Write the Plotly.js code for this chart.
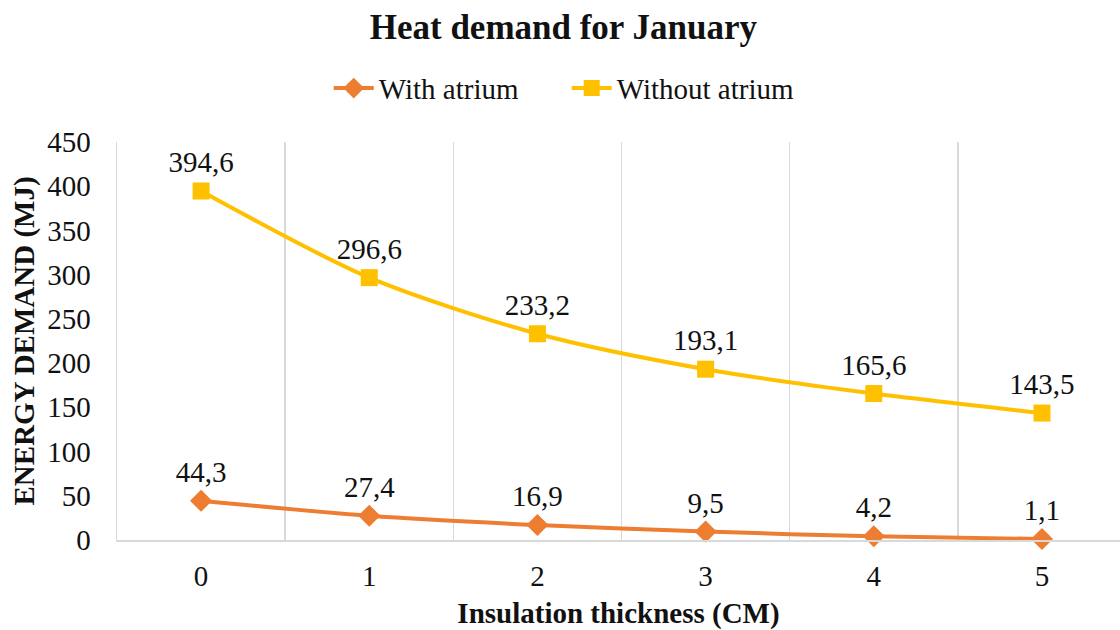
<!DOCTYPE html>
<html>
<head>
<meta charset="utf-8">
<script src="https://cdn.plot.ly/plotly-3.0.1.min.js"></script>
<style>html,body{margin:0;padding:0;background:#fff;}#chart{width:1120px;height:630px;}</style>
</head>
<body>
<div id="chart"></div>
<script>
var thickness = [0, 1, 2, 3, 4, 5];
var tickLabels = ["0", "1", "2", "3", "4", "5"];
var withAtrium = [44.3, 27.4, 16.9, 9.5, 4.2, 1.1];
var withoutAtrium = [394.6, 296.6, 233.2, 193.1, 165.6, 143.5];
var seriesNames = ["With atrium", "Without atrium"];
var yTicks = [0, 50, 100, 150, 200, 250, 300, 350, 400, 450];

var FONT = "Liberation Serif, Times New Roman, serif";

var traces = [
  {
    x: thickness, y: withAtrium, name: seriesNames[0],
    type: "scatter", mode: "lines+markers+text",
    line: {color: "#ED7D31", width: 4, shape: "spline", smoothing: 0.8},
    marker: {symbol: "diamond", size: 17, color: "#ED7D31"},
    texttemplate: "%{y:.1f}", textposition: "top center",
    textfont: {family: FONT, size: 29, color: "#111"},
    cliponaxis: false
  },
  {
    x: thickness, y: withoutAtrium, name: seriesNames[1],
    type: "scatter", mode: "lines+markers+text",
    line: {color: "#FFC000", width: 4, shape: "spline", smoothing: 0.8},
    marker: {symbol: "square", size: 17, color: "#FFC000"},
    texttemplate: "%{y:.1f}", textposition: "top center",
    textfont: {family: FONT, size: 29, color: "#111"},
    cliponaxis: false
  }
];

var layout = {
  width: 1120, height: 630,
  paper_bgcolor: "#fff", plot_bgcolor: "#fff",
  separators: ", ",
  font: {family: FONT, size: 29, color: "#111"},
  margin: {l: 117, r: 0, t: 142, b: 90, pad: 0},
  title: {
    text: "<b>Heat demand for January</b>",
    font: {family: FONT, size: 35, color: "#111"},
    xref: "container", x: 0.503, xanchor: "center",
    yref: "container", y: 0.957, yanchor: "middle"
  },
  showlegend: true,
  legend: {
    orientation: "h",
    xref: "container", x: 0.506, xanchor: "center",
    yref: "container", y: 0.86, yanchor: "middle",
    font: {family: FONT, size: 29, color: "#111"},
    itemwidth: 40, tracegroupgap: 0,
    entrywidth: 183, entrywidthmode: "pixels"
  },
  xaxis: {
    range: [-0.5, 5.464],
    tickmode: "array", tickvals: thickness, ticktext: tickLabels,
    showgrid: false, zeroline: false,
    showline: true, linecolor: "#D9D9D9", linewidth: 1.5,
    ticks: "", ticklabelstandoff: 10,
    tickfont: {family: FONT, size: 29, color: "#111"},
    minor: {tickvals: [0.5, 1.5, 2.5, 3.5, 4.5], showgrid: true, gridcolor: "#D9D9D9", gridwidth: 1.5, ticks: ""},
    title: {text: "<b>Insulation thickness (CM)</b>", font: {family: FONT, size: 29, color: "#111"}, standoff: 12}
  },
  yaxis: {
    range: [0, 450],
    tickmode: "array", tickvals: yTicks,
    showgrid: false, zeroline: false,
    showline: true, linecolor: "#D9D9D9", linewidth: 1.5,
    ticks: "", ticklabelstandoff: 19,
    tickfont: {family: FONT, size: 29, color: "#111"},
    title: {text: "<b>ENERGY DEMAND (MJ)</b>", font: {family: FONT, size: 29, color: "#111"}, standoff: 4}
  }
};

Plotly.newPlot("chart", traces, layout, {displayModeBar: false, staticPlot: true});
</script>
</body>
</html>
